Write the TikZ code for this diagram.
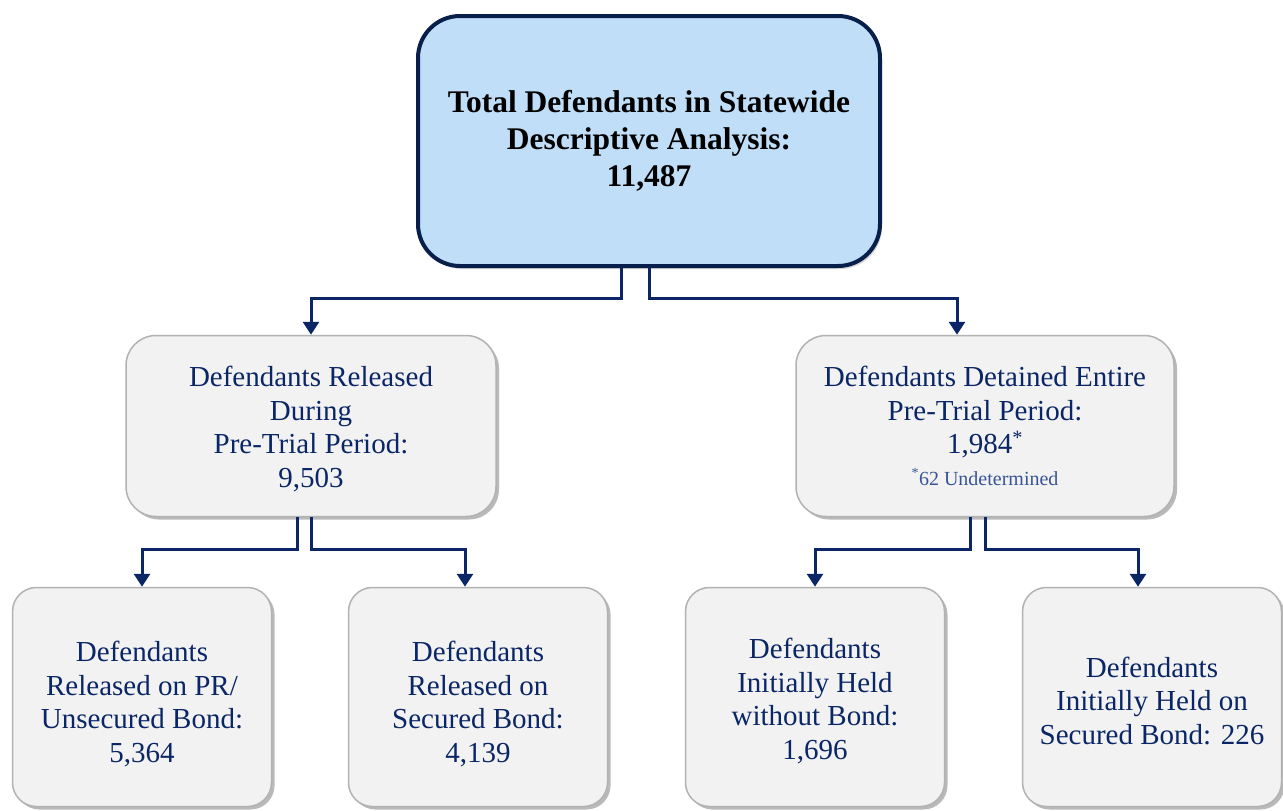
\documentclass[tikz,border=0pt]{standalone}
\usepackage{fontspec}
\setmainfont{Liberation Serif}
\usepackage{tikz}
\usepackage{xcolor}
\usetikzlibrary{arrows.meta,shadows}

\definecolor{navy}{RGB}{10,38,102}
\definecolor{darknavy}{RGB}{8,30,75}
\definecolor{paleblue}{RGB}{192,222,247}
\definecolor{boxgray}{RGB}{242,242,242}
\definecolor{notecol}{RGB}{55,85,150}

\begin{document}
\begin{tikzpicture}[x=1pt,y=-1pt]
	\tikzstyle{topbox} = [draw=darknavy, line width=4, fill=paleblue, rounded corners=42,
		minimum width=462, minimum height=250, align=center, text=black,
		font=\fontsize{31.5}{37}\selectfont\bfseries,
		drop shadow={shadow xshift=2pt, shadow yshift=-3pt, opacity=0.35}]
	\tikzstyle{box} = [draw=gray!60, line width=1.5, fill=boxgray, rounded corners=30,
		align=center, text=navy, font=\fontsize{29}{33.5}\selectfont,
		drop shadow={shadow xshift=3pt, shadow yshift=-3pt, opacity=0.55}]
	\tikzstyle{midbox} = [box, minimum height=181]
	\tikzstyle{lowbox} = [box, minimum width=259, minimum height=219, rounded corners=24]
	\tikzstyle{link} = [draw=navy, line width=3, -{Triangle[width=16pt,length=13pt]}]
	\useasboundingbox (0,0) rectangle (1283,811);
		\node[topbox] (t) at (649,141) {Total Defendants in Statewide\\Descriptive Analysis:\\11,487};
		\node[midbox, minimum width=370] (rel) at (311,426) {\rule{0pt}{26pt}Defendants Released\\During\\Pre-Trial Period:\\9,503};
		\node[midbox, minimum width=378] (det) at (985,426) {Defendants Detained Entire\\Pre-Trial Period:\\1,984\textsuperscript{*}\\[-2pt]
			{\color{notecol}\fontsize{20}{23}\selectfont\textsuperscript{*}62 Undetermined}};
		\node[lowbox] (pr) at (142,697) {\rule{0pt}{34pt}Defendants\\Released on PR/\\Unsecured Bond:\\5,364};
		\node[lowbox] (sec) at (478,697) {\rule{0pt}{34pt}Defendants\\Released on\\Secured Bond:\\4,139};
		\node[lowbox] (nob) at (815,697) {\rule{0pt}{28pt}Defendants\\Initially Held\\without Bond:\\1,696};
		\node[lowbox] (hsb) at (1152,697) {\rule{0pt}{28pt}Defendants\\Initially Held on\\Secured Bond: 226};
	\draw[link] ([xshift=-28pt]t.south) -- ++(0,30) -| (rel.north);
	\draw[link] (t.south) -- ++(0,30) -| ([xshift=-28pt]det.north);
	\draw[link] ([xshift=-14pt]rel.south) -- ++(0,32) -| (pr.north);
	\draw[link] (rel.south) -- ++(0,32) -| ([xshift=-13pt]sec.north);
	\draw[link] ([xshift=-15pt]det.south) -- ++(0,32) -| (nob.north);
	\draw[link] (det.south) -- ++(0,32) -| ([xshift=-14pt]hsb.north);
\end{tikzpicture}
\end{document}
